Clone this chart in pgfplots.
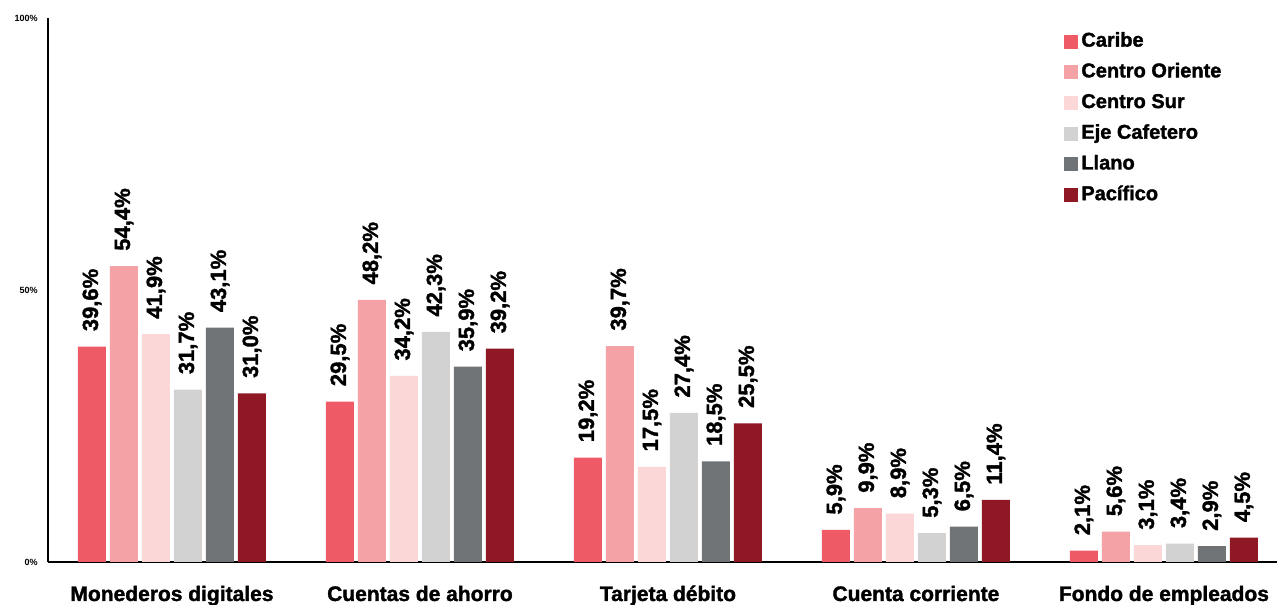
\documentclass[border=0pt]{standalone}
\usepackage{pgfplots}
\pgfplotsset{compat=1.18}
\usepackage{fontspec}
\setmainfont{Liberation Sans}
\newfontfamily\heavy{Liberation Sans}[UprightFont=*-Bold, RawFeature={embolden=1.6}]
\definecolor{cCaribe}{RGB}{238,90,102}
\definecolor{cOriente}{RGB}{245,162,166}
\definecolor{cSur}{RGB}{252,215,216}
\definecolor{cEje}{RGB}{209,210,209}
\definecolor{cLlano}{RGB}{112,115,118}
\definecolor{cPac}{RGB}{142,24,36}
\begin{document}
\begin{tikzpicture}
\begin{axis}[
  scale only axis, width=614.5pt, height=272pt,
  xmin=-0.5, xmax=4.456, ymin=0, ymax=100,
  axis x line=bottom, axis y line=left,
  axis line style={line width=0.6pt,-},
  ybar=2pt, bar width=14pt,
  xtick={0,1,2,3,4},
  xticklabels={Monederos digitales, Cuentas de ahorro, Tarjeta débito, Cuenta corriente, Fondo de empleados},
  xticklabel style={font=\heavy\fontsize{10.5}{12}\selectfont, anchor=base, yshift=-19.5pt, inner sep=0pt},
  ytick={0,50,100}, yticklabels={0\%,50\%,100\%},
  yticklabel style={font=\bfseries\fontsize{4.5}{5}\selectfont, anchor=east, inner sep=0pt, xshift=-5pt},
  major tick length=0pt,
  nodes near coords={\pgfmathprintnumber[fixed,fixed zerofill,precision=1,use comma,assume math mode=true]{\pgfplotspointmeta}\%},
  every node near coord/.append style={rotate=90, anchor=west, font=\heavy\fontsize{11}{13}\selectfont, text=black, inner xsep=7.5pt, inner ysep=0pt},
  legend image code/.code={\fill[#1] (0pt,-3.5pt) rectangle (7pt,3.5pt);},
  legend cell align=left,
  legend style={at={(rel axis cs:0.8218,0.983)}, anchor=north west, draw=none, fill=none,
    font=\heavy\fontsize{10}{12}\selectfont, row sep=5.35pt,
    nodes={inner sep=0pt, text height=7.5pt, text depth=2.5pt},
    /tikz/every odd column/.append style={column sep=1.5pt}},
  clip=false,
]
\addplot[fill=cCaribe, draw=none] coordinates {(0,39.6) (1,29.5) (2,19.2) (3,5.9) (4,2.1)};
\addplot[fill=cOriente, draw=none] coordinates {(0,54.4) (1,48.2) (2,39.7) (3,9.9) (4,5.6)};
\addplot[fill=cSur, draw=none] coordinates {(0,41.9) (1,34.2) (2,17.5) (3,8.9) (4,3.1)};
\addplot[fill=cEje, draw=none] coordinates {(0,31.7) (1,42.3) (2,27.4) (3,5.3) (4,3.4)};
\addplot[fill=cLlano, draw=none] coordinates {(0,43.1) (1,35.9) (2,18.5) (3,6.5) (4,2.9)};
\addplot[fill=cPac, draw=none] coordinates {(0,31.0) (1,39.2) (2,25.5) (3,11.4) (4,4.5)};
\legend{Caribe, Centro Oriente, Centro Sur, Eje Cafetero, Llano, Pacífico}
\coordinate (SW) at (rel axis cs:0,0);
\coordinate (NE) at (rel axis cs:1,1);
\end{axis}
\pgfresetboundingbox
\path[use as bounding box] ([xshift=-24pt,yshift=-21.5pt]SW) rectangle ([yshift=9pt]NE);
\end{tikzpicture}
\end{document}
